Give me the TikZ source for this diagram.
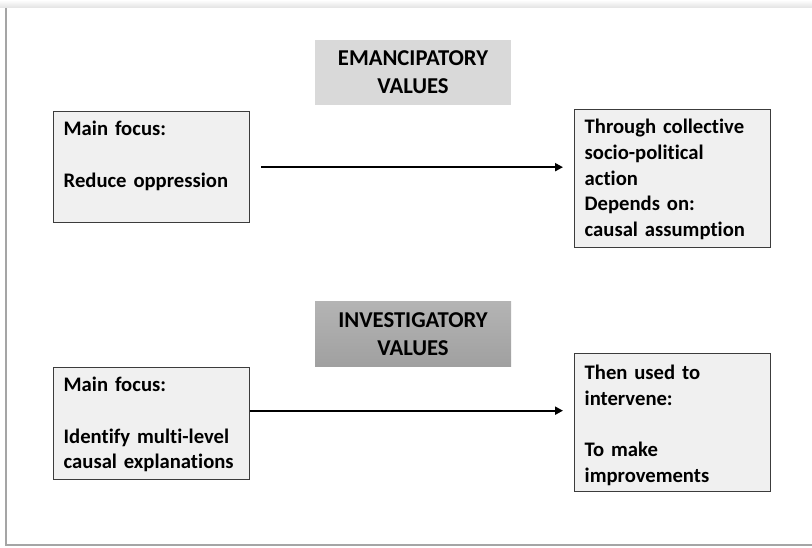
\documentclass[tikz,border=0pt]{standalone}
\usepackage{fontspec}
\setmainfont[Ligatures=NoCommon]{Carlito}
\usepackage{tikz}
\usetikzlibrary{arrows.meta}
\definecolor{emfill}{RGB}{217,217,217}
\definecolor{invtop}{RGB}{180,180,180}
\definecolor{invbot}{RGB}{160,160,160}
\definecolor{boxfill}{RGB}{240,240,240}
\definecolor{boxline}{RGB}{60,60,60}
\definecolor{framec}{RGB}{165,165,165}

\begin{document}
\begin{tikzpicture}[x=0.75pt, y=-0.75pt,
  every node/.style={font=\bfseries\fontsize{15.5}{19.3}\selectfont},
  valtitle/.style={align=center, minimum width=147pt, minimum height=48.75pt, inner sep=0pt,
    font=\bfseries\fontsize{17}{21}\selectfont},
  focusbox/.style={draw=boxline, line width=1pt, fill=boxfill, anchor=north west, align=left,
    text width=132pt, inner xsep=7.5pt, inner ysep=0pt, text height=18pt, text depth=#1},
  link/.style={-{Triangle[length=6pt,width=6pt]}, line width=1.5pt}]
  \useasboundingbox (0,0) rectangle (812,547);
  % page frame with its shadow
  \shade[top color=white, bottom color=gray!20] (0,0) rectangle (812,7);
  \draw[framec, line width=1.5pt] (6,8) -- (6,545) -- (812,545);
  % emancipatory values
  \node[valtitle, fill=emfill] (emtitle) at (413,72.5) {EMANCIPATORY\\VALUES};
  \node[focusbox=65.25pt] (emfocus) at (53,111) {Main focus:\\[19.3pt]Reduce oppression};
  \node[focusbox=85.5pt] (emaction) at (574,109) {Through collective\\socio-political\\action\\Depends on:\\causal assumption};
  % investigatory values
  \node[valtitle, top color=invtop, bottom color=invbot] (invtitle) at (413,334) {INVESTIGATORY\\VALUES};
  \node[focusbox=66pt] (invfocus) at (53,367) {Main focus:\\[19.3pt]Identify multi-level\\causal explanations};
  \node[focusbox=84pt, text height=19.5pt] (invaction) at (574,353) {Then used to\\intervene:\\[19.3pt]To make\\improvements};
  \coordinate (invstart) at ([yshift=9.75pt]invfocus.east);
  \draw[link, shorten <=8.25pt, shorten >=8.25pt] (emfocus.east) -- (emfocus.east -| emaction.west);
  \draw[link, shorten >=8.25pt] (invstart) -- (invstart -| invaction.west);
\end{tikzpicture}
\end{document}
